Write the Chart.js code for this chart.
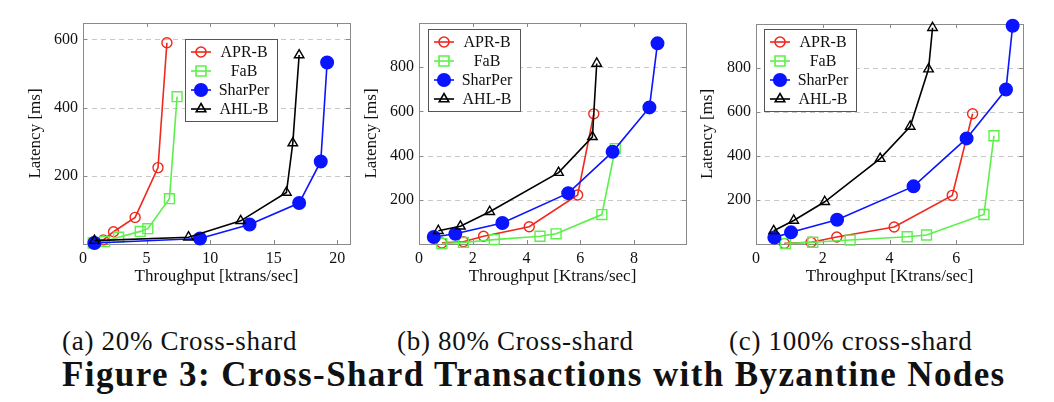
<!DOCTYPE html>
<html lang="en">
<head>
  <meta charset="UTF-8" />
  <title>Cross-Shard Transactions with Byzantine Nodes</title>
  <script src="https://cdn.jsdelivr.net/npm/chart.js"></script>
  <style>
    * { margin: 0; padding: 0; box-sizing: border-box; }
    body {
      width: 1054px;
      height: 402px;
      background: #ffffff;
      position: relative;
      overflow: hidden;
      font-family: 'Liberation Serif', 'DejaVu Serif', serif;
      color: #111;
    }
    .panel { position: absolute; top: 0; height: 300px; }
    .sub {
      position: absolute;
      top: 326px;
      font-size: 27px;
      line-height: 30px;
      letter-spacing: 0.7px;
      white-space: nowrap;
    }
    .fig {
      position: absolute;
      left: 62px;
      top: 356px;
      font-size: 35px;
      line-height: 38px;
      letter-spacing: 1.4px;
      font-weight: bold;
      white-space: nowrap;
    }
  </style>
</head>
<body>
  <div class="panel" style="left:0;width:360px"><canvas id="chartA"></canvas></div>
  <div class="panel" style="left:355px;width:340px"><canvas id="chartB"></canvas></div>
  <div class="panel" style="left:695px;width:359px"><canvas id="chartC"></canvas></div>

  <div class="sub" style="left:62px">(a) 20% Cross-shard</div>
  <div class="sub" style="left:397px">(b) 80% Cross-shard</div>
  <div class="sub" style="left:729px">(c) 100% cross-shard</div>
  <div class="fig">Figure 3: Cross-Shard Transactions with Byzantine Nodes</div>

  <script>
    // series names, same in every panel
    const seriesNames = ['APR-B', 'FaB', 'SharPer', 'AHL-B'];

    // (a) 20% cross-shard
    const aprA_x = [0.8, 1.6, 2.4, 4.1, 5.9, 6.6];
    const aprA_y = [6, 12, 36, 78, 224, 590];
    const fabA_x = [0.8, 1.7, 2.8, 4.5, 5.1, 6.8, 7.4];
    const fabA_y = [3, 7, 20, 37, 45, 133, 432];
    const sharA_x = [0.9, 9.2, 13.1, 17.0, 18.7, 19.2];
    const sharA_y = [3, 16, 57, 120, 242, 532];
    const ahlA_x = [0.9, 8.3, 12.4, 16.0, 16.5, 17.0];
    const ahlA_y = [10, 20, 68, 151, 296, 554];

    // (b) 80% cross-shard
    const aprB_x = [0.85, 1.65, 2.4, 4.1, 5.9, 6.5];
    const aprB_y = [5, 10, 35, 78, 222, 589];
    const fabB_x = [0.85, 1.65, 2.8, 4.5, 5.1, 6.8, 7.3];
    const fabB_y = [2, 7, 20, 35, 46, 133, 432];
    const sharB_x = [0.55, 1.35, 3.1, 5.55, 7.2, 8.57, 8.87];
    const sharB_y = [32, 46, 95, 230, 417, 618, 908];
    const ahlB_x = [0.72, 1.54, 2.63, 5.19, 6.45, 6.61];
    const ahlB_y = [60, 80, 146, 323, 485, 817];

    // (c) 100% cross-shard
    const aprC_x = [0.85, 1.65, 2.42, 4.14, 5.88, 6.49];
    const aprC_y = [3, 8, 32, 77, 221, 592];
    const fabC_x = [0.88, 1.7, 2.82, 4.53, 5.11, 6.83, 7.13];
    const fabC_y = [2, 8, 18, 33, 41, 134, 492];
    const sharC_x = [0.55, 1.05, 2.43, 4.72, 6.31, 7.49, 7.69];
    const sharC_y = [29, 53, 110, 262, 480, 702, 992];
    const ahlC_x = [0.53, 1.13, 2.06, 3.72, 4.62, 5.17, 5.29];
    const ahlC_y = [60, 107, 192, 388, 534, 795, 983];

    // axis ticks
    const xTicksA = [0, 5, 10, 15, 20];
    const xTicksB = [0, 2, 4, 6, 8];
    const xTicksC = [0, 2, 4, 6];
    const yTicks = [200, 400, 600, 800];

    const SERIF = "'Liberation Serif', 'DejaVu Serif', serif";
    const styles = [
      { color: '#f0291c', pointStyle: 'circle', radius: 5, fill: 'rgba(0,0,0,0)', order: 4 },
      { color: '#5cf04a', pointStyle: 'rect', radius: 7, fill: 'rgba(0,0,0,0)', order: 3 },
      { color: '#0a14ff', pointStyle: 'circle', radius: 6.3, fill: '#0a14ff', order: 2 },
      { color: '#000000', pointStyle: 'triangle', radius: 5.5, fill: 'rgba(0,0,0,0)', order: 1 }
    ];

    const zip = (xs, ys) => xs.map((x, i) => ({ x: x, y: ys[i] }));

    // gray frame, inward ticks and dashed y grid, pgfplots style
    const framePlugin = {
      id: 'frame',
      beforeDatasetsDraw(chart) {
        const { ctx, chartArea: a, scales } = chart;
        ctx.save();
        ctx.strokeStyle = '#c8c8c8';
        ctx.lineWidth = 1;
        ctx.setLineDash([5, 4]);
        scales.y.ticks.forEach(t => {
          const py = Math.round(scales.y.getPixelForValue(t.value)) + 0.5;
          ctx.beginPath();
          ctx.moveTo(a.left, py);
          ctx.lineTo(a.right, py);
          ctx.stroke();
        });
        ctx.setLineDash([]);
        ctx.strokeStyle = '#8a8a8a';
        scales.x.ticks.forEach(t => {
          const px = Math.round(scales.x.getPixelForValue(t.value)) + 0.5;
          ctx.beginPath();
          ctx.moveTo(px, a.bottom); ctx.lineTo(px, a.bottom - 4);
          ctx.moveTo(px, a.top); ctx.lineTo(px, a.top + 4);
          ctx.stroke();
        });
        scales.y.ticks.forEach(t => {
          const py = Math.round(scales.y.getPixelForValue(t.value)) + 0.5;
          ctx.beginPath();
          ctx.moveTo(a.left, py); ctx.lineTo(a.left + 4, py);
          ctx.moveTo(a.right, py); ctx.lineTo(a.right - 4, py);
          ctx.stroke();
        });
        ctx.strokeRect(Math.round(a.left) + 0.5, Math.round(a.top) + 0.5,
          Math.round(a.right - a.left), Math.round(a.bottom - a.top));
        ctx.restore();
      }
    };

    // boxed legend inside the plot, line sample with marker, centered text
    const boxLegendPlugin = {
      id: 'boxLegend',
      afterDatasetsDraw(chart, args, opts) {
        const { ctx } = chart;
        const w = 92, rowH = 19, h = 82;
        ctx.save();
        ctx.fillStyle = '#ffffff';
        ctx.fillRect(opts.left, opts.top, w, h);
        ctx.strokeStyle = '#555555';
        ctx.lineWidth = 1;
        ctx.strokeRect(opts.left + 0.5, opts.top + 0.5, w, h);
        ctx.font = '16px ' + SERIF;
        ctx.textAlign = 'center';
        ctx.textBaseline = 'middle';
        chart.data.datasets.forEach((ds, i) => {
          const cy = opts.top + 13 + i * rowH;
          ctx.strokeStyle = ds.borderColor;
          ctx.lineWidth = 1.6;
          ctx.beginPath();
          ctx.moveTo(opts.left + 6, cy);
          ctx.lineTo(opts.left + 26, cy);
          ctx.stroke();
          ctx.fillStyle = ds.pointBackgroundColor;
          Chart.helpers.drawPoint(ctx, {
            pointStyle: ds.pointStyle,
            radius: ds.pointRadius,
            borderWidth: 1.4,
            rotation: 0
          }, opts.left + 16, cy);
          ctx.fillStyle = '#111';
          ctx.fillText(ds.label, opts.left + 59, cy + 1);
        });
        ctx.restore();
      }
    };

    function makeChart(id, series, cfg) {
      const datasets = series.map((pts, i) => ({
        label: seriesNames[i],
        data: pts,
        borderColor: styles[i].color,
        backgroundColor: styles[i].color,
        borderWidth: 1.6,
        pointStyle: styles[i].pointStyle,
        pointRadius: styles[i].radius,
        pointHoverRadius: styles[i].radius,
        pointBorderWidth: 1.4,
        pointBorderColor: styles[i].color,
        pointBackgroundColor: styles[i].fill,
        tension: 0,
        clip: false,
        order: styles[i].order
      }));

      return new Chart(document.getElementById(id), {
        type: 'line',
        data: { datasets: datasets },
        options: {
          responsive: true,
          maintainAspectRatio: false,
          animation: false,
          events: [],
          layout: { padding: { left: 0, right: cfg.padRight, top: cfg.padTop, bottom: 0 } },
          scales: {
            x: {
              type: 'linear',
              min: 0,
              max: cfg.xMax,
              grid: { display: false, drawTicks: false },
              border: { display: false },
              afterBuildTicks: s => { s.ticks = cfg.xTicks.map(v => ({ value: v })); },
              afterFit: s => { s.height = 56; },
              ticks: {
                color: '#111',
                padding: 5,
                maxRotation: 0,
                font: { family: SERIF, size: 16 }
              },
              title: {
                display: true,
                text: cfg.xTitle,
                color: '#111',
                padding: { top: 0, bottom: 13 },
                font: { family: SERIF, size: 17 }
              }
            },
            y: {
              type: 'linear',
              min: 0,
              max: cfg.yMax,
              grid: { display: false, drawTicks: false },
              border: { display: false },
              afterBuildTicks: s => { s.ticks = yTicks.filter(v => v < cfg.yMax).map(v => ({ value: v })); },
              afterFit: s => { s.width = cfg.yWidth; },
              ticks: {
                color: '#111',
                padding: 5,
                font: { family: SERIF, size: 16 }
              },
              title: {
                display: true,
                text: 'Latency [ms]',
                color: '#111',
                padding: { top: cfg.yTitlePad, bottom: 0 },
                font: { family: SERIF, size: 17 }
              }
            }
          },
          plugins: {
            legend: { display: false },
            tooltip: { enabled: false },
            boxLegend: cfg.legend
          }
        },
        plugins: [framePlugin, boxLegendPlugin]
      });
    }

    makeChart('chartA', [
      zip(aprA_x, aprA_y), zip(fabA_x, fabA_y), zip(sharA_x, sharA_y), zip(ahlA_x, ahlA_y)
    ], {
      xMax: 21, yMax: 648, xTicks: xTicksA, xTitle: 'Throughput [ktrans/sec]',
      padRight: 10, padTop: 23, yWidth: 83, yTitlePad: 25,
      legend: { left: 185, top: 39 }
    });

    makeChart('chartB', [
      zip(aprB_x, aprB_y), zip(fabB_x, fabB_y), zip(sharB_x, sharB_y), zip(ahlB_x, ahlB_y)
    ], {
      xMax: 9.93, yMax: 1000, xTicks: xTicksB, xTitle: 'Throughput [Ktrans/sec]',
      padRight: 9, padTop: 23, yWidth: 64, yTitlePad: 6,
      legend: { left: 73, top: 29 }
    });

    makeChart('chartC', [
      zip(aprC_x, aprC_y), zip(fabC_x, fabC_y), zip(sharC_x, sharC_y), zip(ahlC_x, ahlC_y)
    ], {
      xMax: 8, yMax: 1000, xTicks: xTicksC, xTitle: 'Throughput [Ktrans/sec]',
      padRight: 31, padTop: 24, yWidth: 61, yTitlePad: 2,
      legend: { left: 69, top: 29 }
    });
  </script>
</body>
</html>
